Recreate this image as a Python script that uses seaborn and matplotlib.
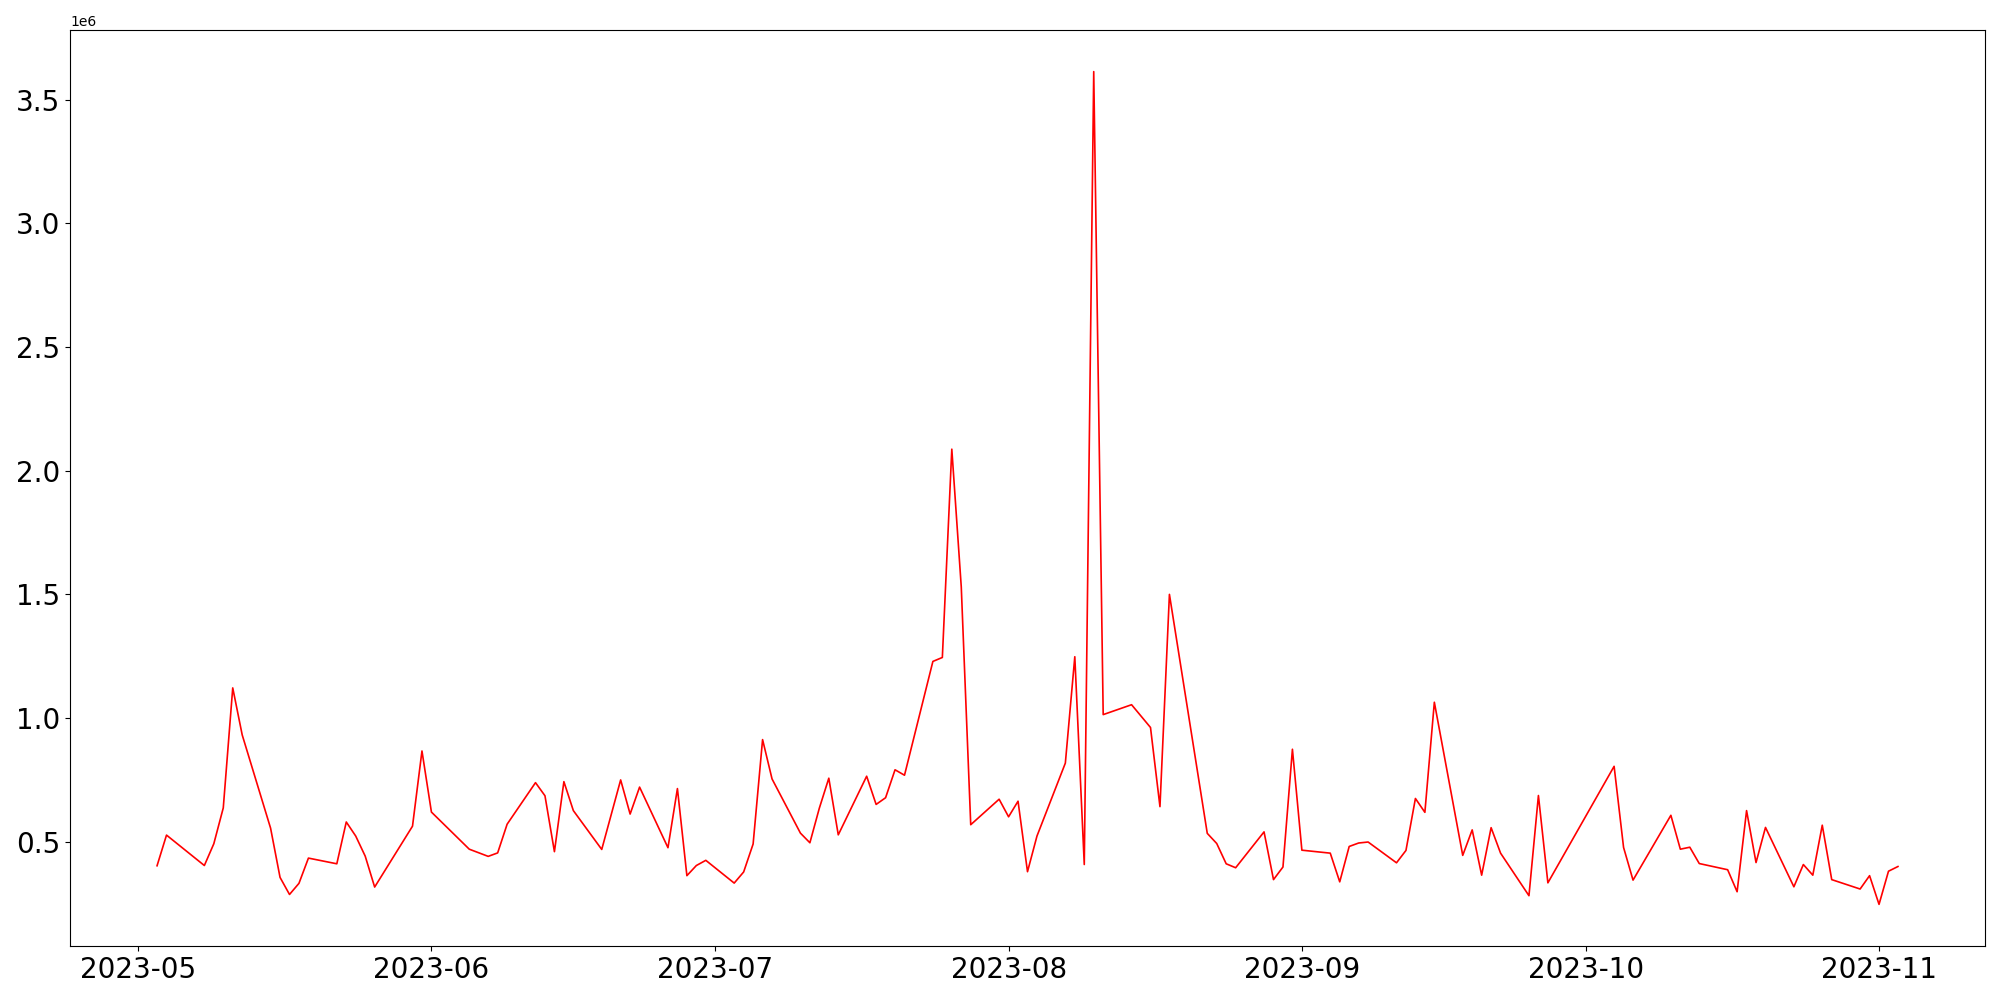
import pandas as pd
import matplotlib
matplotlib.use('Agg')
import matplotlib.pyplot as plt
import seaborn as sns

# Daily values (units of 1e6)
dates = [
    '2023-05-03', '2023-05-04', '2023-05-08', '2023-05-09', '2023-05-10', '2023-05-11', '2023-05-12',
    '2023-05-15', '2023-05-16', '2023-05-17', '2023-05-18', '2023-05-19',
    '2023-05-22', '2023-05-23', '2023-05-24', '2023-05-25', '2023-05-26',
    '2023-05-30', '2023-05-31', '2023-06-01', '2023-06-05', '2023-06-07', '2023-06-08', '2023-06-09',
    '2023-06-12', '2023-06-13', '2023-06-14', '2023-06-15', '2023-06-16',
    '2023-06-19', '2023-06-21', '2023-06-22', '2023-06-23',
    '2023-06-26', '2023-06-27', '2023-06-28', '2023-06-29', '2023-06-30',
    '2023-07-03', '2023-07-04', '2023-07-05', '2023-07-06', '2023-07-07',
    '2023-07-10', '2023-07-11', '2023-07-12', '2023-07-13', '2023-07-14',
    '2023-07-17', '2023-07-18', '2023-07-19', '2023-07-20', '2023-07-21',
    '2023-07-24', '2023-07-25', '2023-07-26', '2023-07-27', '2023-07-28',
    '2023-07-31', '2023-08-01', '2023-08-02', '2023-08-03', '2023-08-04',
    '2023-08-07', '2023-08-08', '2023-08-09', '2023-08-10', '2023-08-11',
    '2023-08-14', '2023-08-16', '2023-08-17', '2023-08-18',
    '2023-08-22', '2023-08-23', '2023-08-24', '2023-08-25',
    '2023-08-28', '2023-08-29', '2023-08-30', '2023-08-31', '2023-09-01',
    '2023-09-04', '2023-09-05', '2023-09-06', '2023-09-07', '2023-09-08',
    '2023-09-11', '2023-09-12', '2023-09-13', '2023-09-14', '2023-09-15',
    '2023-09-18', '2023-09-19', '2023-09-20', '2023-09-21', '2023-09-22',
    '2023-09-25', '2023-09-26', '2023-09-27',
    '2023-10-04', '2023-10-05', '2023-10-06',
    '2023-10-10', '2023-10-11', '2023-10-12', '2023-10-13',
    '2023-10-16', '2023-10-17', '2023-10-18', '2023-10-19', '2023-10-20',
    '2023-10-23', '2023-10-24', '2023-10-25', '2023-10-26', '2023-10-27',
    '2023-10-30', '2023-10-31', '2023-11-01', '2023-11-02', '2023-11-03',
]

values = [
    0.403, 0.527, 0.404, 0.492, 0.637, 1.122, 0.932,
    0.555, 0.356, 0.287, 0.332, 0.434,
    0.411, 0.580, 0.523, 0.442, 0.317,
    0.563, 0.867, 0.620, 0.470, 0.441, 0.455, 0.571,
    0.739, 0.686, 0.460, 0.743, 0.626,
    0.469, 0.750, 0.612, 0.721,
    0.476, 0.715, 0.363, 0.404, 0.425,
    0.333, 0.378, 0.491, 0.913, 0.754,
    0.535, 0.496, 0.636, 0.757, 0.528,
    0.765, 0.651, 0.678, 0.791, 0.769,
    1.229, 1.245, 2.087, 1.530, 0.569,
    0.672, 0.601, 0.664, 0.379, 0.523,
    0.818, 1.248, 0.408, 3.613, 1.014,
    1.054, 0.962, 0.642, 1.500,
    0.534, 0.493, 0.411, 0.395,
    0.540, 0.347, 0.398, 0.874, 0.466,
    0.454, 0.338, 0.481, 0.495, 0.499,
    0.415, 0.465, 0.675, 0.619, 1.064,
    0.445, 0.548, 0.365, 0.557, 0.454,
    0.282, 0.687, 0.334,
    0.805, 0.477, 0.345,
    0.607, 0.470, 0.478, 0.412,
    0.387, 0.298, 0.626, 0.416, 0.558,
    0.318, 0.408, 0.365, 0.567, 0.347,
    0.309, 0.363, 0.247, 0.381, 0.400,
]

df = pd.DataFrame({'date': pd.to_datetime(dates), 'value': [v * 1e6 for v in values]})

fig, ax = plt.subplots(figsize=(20, 10), dpi=100)
sns.lineplot(data=df, x='date', y='value', color='red', linewidth=1.2, ax=ax)

ax.set_xlabel('')
ax.set_ylabel('')
ax.tick_params(axis='both', labelsize=20)

plt.subplots_adjust(left=0.035, right=0.9925, top=0.97, bottom=0.054)
plt.savefig('out.png')
